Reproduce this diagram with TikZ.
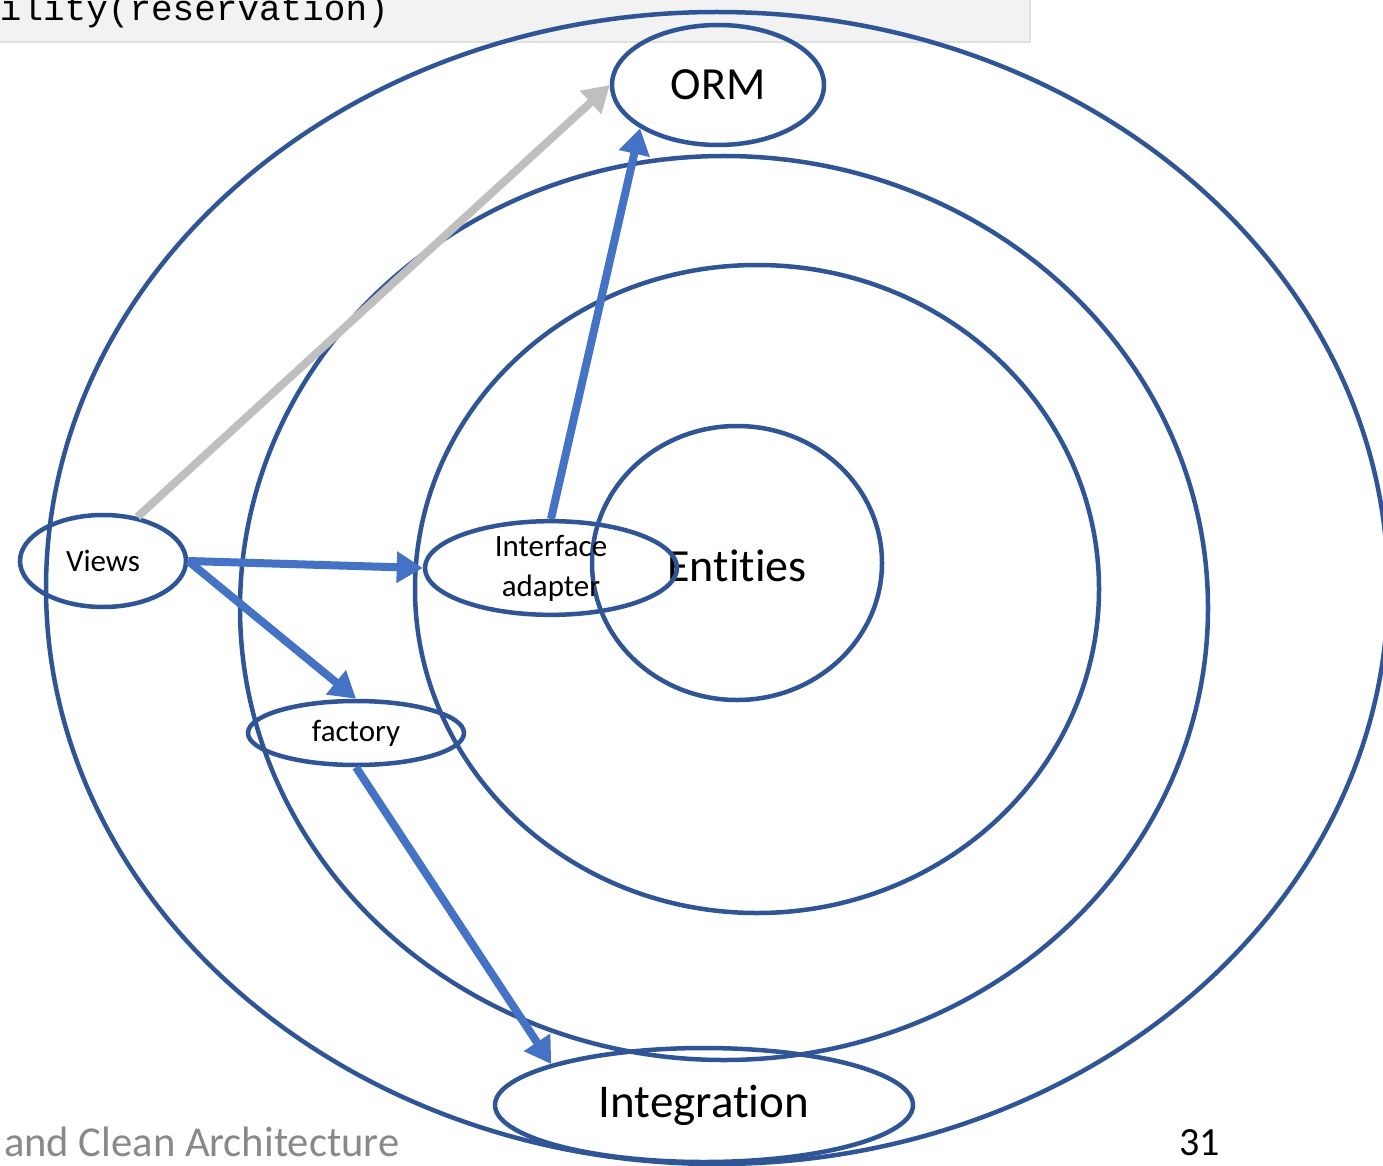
\documentclass[tikz,border=0pt]{standalone}
\usepackage{fontspec}
\setmainfont{Carlito}[Ligatures=NoCommon]
\newfontfamily\codefont{Liberation Mono}
\usetikzlibrary{shapes.geometric,arrows.meta}

\definecolor{ringblue}{HTML}{2F5597}
\definecolor{arrowblue}{HTML}{4472C4}
\definecolor{arrowgray}{HTML}{BFBFBF}
\definecolor{footgray}{HTML}{898989}
\definecolor{codebg}{HTML}{F2F2F2}

\tikzset{
  ring/.style={draw=ringblue, line width=4.5pt, ellipse, inner sep=0pt},
  bubble/.style={draw=ringblue, line width=4.5pt, ellipse, inner sep=0pt, align=center, text=black},
  flow/.style={draw=arrowblue, line width=8pt, -{Triangle[length=26pt,width=30pt]}},
  flowgray/.style={draw=arrowgray, line width=8pt, -{Triangle[length=26pt,width=30pt]}},
  biglabel/.style={font=\fontsize{46}{50}\selectfont},
  smalllabel/.style={font=\fontsize{31}{40}\selectfont},
}

\begin{document}
\begin{tikzpicture}[x=1pt, y=-1pt]
  \useasboundingbox (0,0) rectangle (1383,1166);
  \clip (0,0) rectangle (1383,1166);
  \fill[white] (0,0) rectangle (1383,1166);

  % code strip along the top
  \fill[codebg] (0,0) rectangle (1030,42);
  \draw[black!12, line width=1.5pt] (0,42) -- (1030,42) -- (1030,0);
  \node[anchor=base east, inner sep=0pt, font=\codefont\fontsize{36}{40}\selectfont] (code) at (389,21) {ility(reservation)};

  % concentric layers
  \node[ring, minimum width=1342pt, minimum height=1152pt] (outer) at (717,588) {};
  \node[ring, minimum width=968pt, minimum height=904pt] (middle) at (724,608) {};
  \node[ring, minimum width=684pt, minimum height=648pt] (inner) at (757,589) {};
  \node[ring, minimum width=290pt, minimum height=274pt] (ent) at (737,563) {};
  \node[biglabel, inner sep=0pt] (entlabel) at (737,566) {Entities};

  % components
  \node[bubble, minimum width=212pt, minimum height=120pt, biglabel] (orm) at (718,85) {ORM};
  \node[bubble, minimum width=166pt, minimum height=92pt, smalllabel] (views) at (103,561) {Views};
  \node[bubble, minimum width=252pt, minimum height=92pt, smalllabel] (adapter) at (551,568) {Interface\\adapter};
  \node[bubble, minimum width=216pt, minimum height=64pt, smalllabel] (factory) at (356,733) {factory};
  \node[bubble, minimum width=418pt, minimum height=114pt, font=\fontsize{47}{50}\selectfont] (integ) at (704,1105) {Integration};

  % dependencies
  \draw[flowgray] (views.52) -- (orm.west);
  \draw[flow] (views.east) -- (adapter.west);
  \draw[flow] (views.east) -- (factory.north);
  \draw[flow] (adapter.north) -- (orm.209);
  \draw[flow] (factory.south) -- (integ.165);

  % footer
  \node[anchor=base west, inner sep=0pt, text=footgray, font=\fontsize{42.6}{46}\selectfont] (foot) at (4,1156) {and Clean Architecture};
  \node[anchor=base west, inner sep=0pt, text=black, font=\fontsize{40}{44}\selectfont] (page) at (1179,1155) {31};
\end{tikzpicture}
\end{document}
